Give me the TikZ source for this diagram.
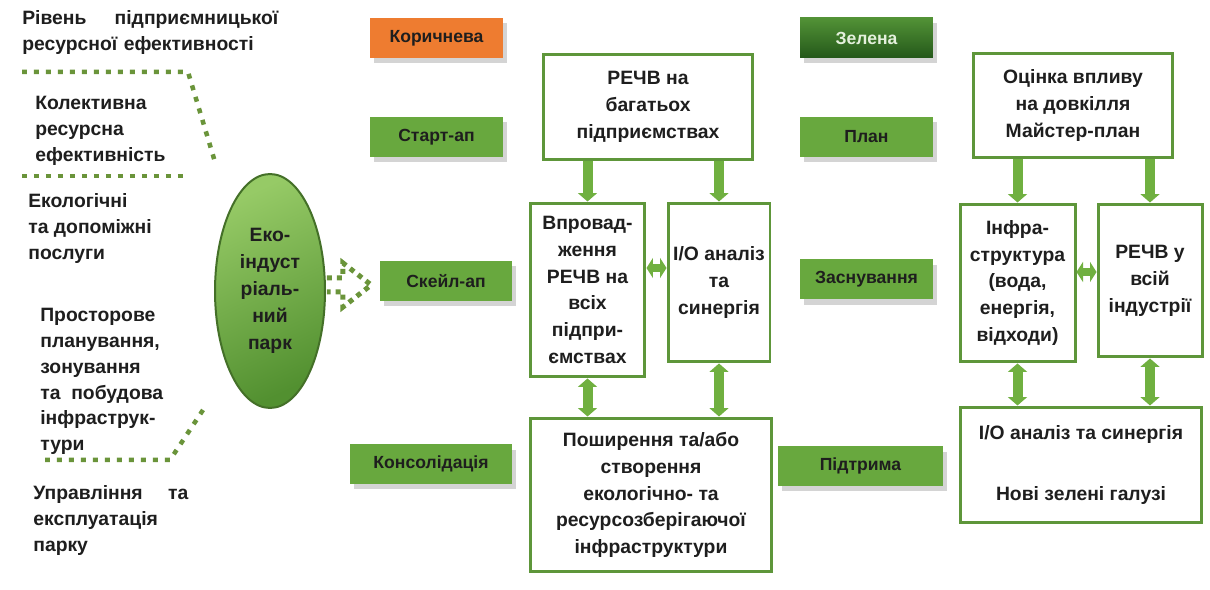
\documentclass[tikz,border=0pt]{standalone}
\usepackage{fontspec}
\setmainfont{Liberation Sans}
\usepackage{tikz}
\usetikzlibrary{
  arrows.meta,
  positioning,
  calc,
  shapes.geometric,
  shadows
}
\definecolor{FrameGreen}{RGB}{94,150,58}
\definecolor{ArrowGreen}{RGB}{112,176,64}
\definecolor{TagGreen}{RGB}{104,168,62}
\definecolor{TagOrange}{RGB}{238,124,48}
\definecolor{DarkTagTop}{RGB}{82,146,54}
\definecolor{DarkTagBottom}{RGB}{36,88,26}
\definecolor{PaleText}{RGB}{228,240,220}
\definecolor{DotGreen}{RGB}{106,148,58}
\definecolor{EllLight}{RGB}{150,202,102}
\definecolor{EllDark}{RGB}{82,144,48}
\definecolor{EllEdge}{RGB}{68,112,40}
\definecolor{InkGray}{RGB}{30,30,30}
\tikzset{
  stagebox/.style={draw=FrameGreen,fill=white,line width=0.06cm,align=center,inner sep=1pt,font=\bfseries\fontsize{11}{15.3}\selectfont,text=InkGray},
  tagbox/.style={fill=TagGreen,align=center,minimum width=2.66cm,minimum height=0.8cm,font=\bfseries\fontsize{10}{12}\selectfont,text=InkGray,drop shadow={shadow xshift=0.08cm,shadow yshift=-0.11cm,fill=black!17,opacity=1}},
  sidetext/.style={anchor=north west,align=left,inner sep=0pt,font=\bfseries\fontsize{11}{14.7}\selectfont,text=InkGray},
  ecopark/.style={ellipse,draw=EllEdge,line width=0.04cm,top color=EllLight,bottom color=EllDark,shading angle=25,minimum width=2.2cm,minimum height=4.68cm,align=center,inner sep=0pt,font=\bfseries\fontsize{11}{15.3}\selectfont,text=InkGray},
  dotline/.style={draw=DotGreen,line width=0.09cm,dash pattern=on 0.1cm off 0.14cm},
  fatarrow/.style={draw=ArrowGreen,line width=0.2cm,-{Triangle[width=0.38cm,length=0.17cm]}},
  fatboth/.style={draw=ArrowGreen,line width=0.2cm,{Triangle[width=0.38cm,length=0.17cm]}-{Triangle[width=0.38cm,length=0.17cm]}},
  shortboth/.style={draw=ArrowGreen,line width=0.15cm,{Triangle[width=0.4cm,length=0.13cm]}-{Triangle[width=0.4cm,length=0.13cm]}}
}

\begin{document}
\begin{tikzpicture}[x=0.02cm,y=-0.02cm]
\fill[white] (0,0) rectangle (1210,590);
\useasboundingbox (0,0) rectangle (1210,590);

% left column
\node[sidetext,text width=5.12cm] (riven) at (22,10) {Рівень\hfill підприємницької\\ресурсної ефективності};
\node[sidetext] (kolekt) at (35,96) {Колективна\\ресурсна\\ефективність};
\node[sidetext] (ekol) at (28,193) {Екологічні\\та допоміжні\\послуги};
\node[sidetext] (prostor) at (40,308) {Просторове\\планування,\\зонування\\та\ \ побудова\\інфраструк-\\тури};
\node[sidetext,text width=3.1cm] (upravl) at (33,485) {Управління\hfill та\\експлуатація\\парку};

\coordinate (d1a) at (22,72);
\coordinate (d1b) at (188,72);
\coordinate (d1c) at (215,162);
\coordinate (d2a) at (22,176);
\coordinate (d2b) at (185,176);
\coordinate (d3a) at (45,460);
\coordinate (d3b) at (170,460);
\coordinate (d3c) at (205,407);
\draw[dotline] (d1a) -- (d1b) -- (d1c);
\draw[dotline] (d2a) -- (d2b);
\draw[dotline] (d3a) -- (d3b) -- (d3c);

\node[ecopark] (park) at (270,291) {Еко-\\індуст\\ріаль-\\ний\\парк};

% stage tags
\node[tagbox,fill=TagOrange] (brown) at (436.5,38) {Коричнева};
\node[tagbox] (startup) at (436.5,137) {Старт-ап};
\node[tagbox] (scale) at (446,281) {Скейл-ап};
\node[tagbox,minimum width=3.24cm] (consol) at (431,464) {Консолідація};
\node[tagbox,top color=DarkTagTop,bottom color=DarkTagBottom,text=PaleText] (green) at (866.5,38) {Зелена};
\node[tagbox] (plan) at (866.5,137) {План};
\node[tagbox] (found) at (866.5,279.5) {Заснування};
\node[tagbox,minimum width=3.3cm] (support) at (860.5,466) {Підтрима};

\draw[dotline,line width=0.1cm,dash pattern=on 0.1cm off 0.1cm]
  ($(park.east)+(1,-13)$) -- ++(16,0) -- ++(0,-15) -- ($(scale.west)+(-8,4)$)
  -- ($(park.east)+(17,16)$) -- ++(0,-15) -- ++(-16,0);

% brown park boxes
\node[stagebox,minimum width=4.2cm,minimum height=2.12cm] (rechv) at (648,107) {РЕЧВ на\\багатьох\\підприємствах};
\node[stagebox,minimum width=2.3cm,minimum height=3.48cm] (vprov) at (587.5,290) {Впровад-\\ження\\РЕЧВ на\\всіх\\підпри-\\ємствах};
\node[stagebox,minimum width=2.04cm,minimum height=3.18cm] (ioa) at (719,282.5) {I/O аналіз\\та\\синергія};
\node[stagebox,minimum width=4.84cm,minimum height=3.08cm] (posh) at (651,495) {Поширення та/або\\створення\\екологічно- та\\ресурсозберігаючої\\інфраструктури};

% green park boxes
\node[stagebox,minimum width=4cm,minimum height=2.1cm] (otsin) at (1073,105.5) {Оцінка впливу\\на довкілля\\Майстер-план};
\node[stagebox,minimum width=2.3cm,minimum height=3.16cm] (infra) at (1017.5,283) {Інфра-\\структура\\(вода,\\енергія,\\відходи)};
\node[stagebox,minimum width=2.08cm,minimum height=3.06cm] (rechvall) at (1150,280.5) {РЕЧВ у\\всій\\індустрії};
\node[stagebox,minimum width=4.84cm,minimum height=2.32cm] (iob) at (1081,465) {I/O аналіз та синергія\\[19pt]Нові зелені галузі};

\coordinate (hl) at ($(vprov.east)+(0,-22)$);
\coordinate (hr) at ($(infra.east)+(0,-11)$);
\draw[fatarrow] (rechv.south -| vprov.north) -- (vprov.north);
\draw[fatarrow] (rechv.south -| ioa.north) -- (ioa.north);
\draw[shortboth] (hl) -- (hl -| ioa.west);
\draw[fatboth] (vprov.south) -- (vprov.south |- posh.north);
\draw[fatboth] (ioa.south) -- (ioa.south |- posh.north);
\draw[fatarrow] (otsin.south -| infra.north) -- (infra.north);
\draw[fatarrow] (otsin.south -| rechvall.north) -- (rechvall.north);
\draw[shortboth] (hr) -- (hr -| rechvall.west);
\draw[fatboth] (infra.south) -- (infra.south |- iob.north);
\draw[fatboth] (rechvall.south) -- (rechvall.south |- iob.north);
\end{tikzpicture}
\end{document}
